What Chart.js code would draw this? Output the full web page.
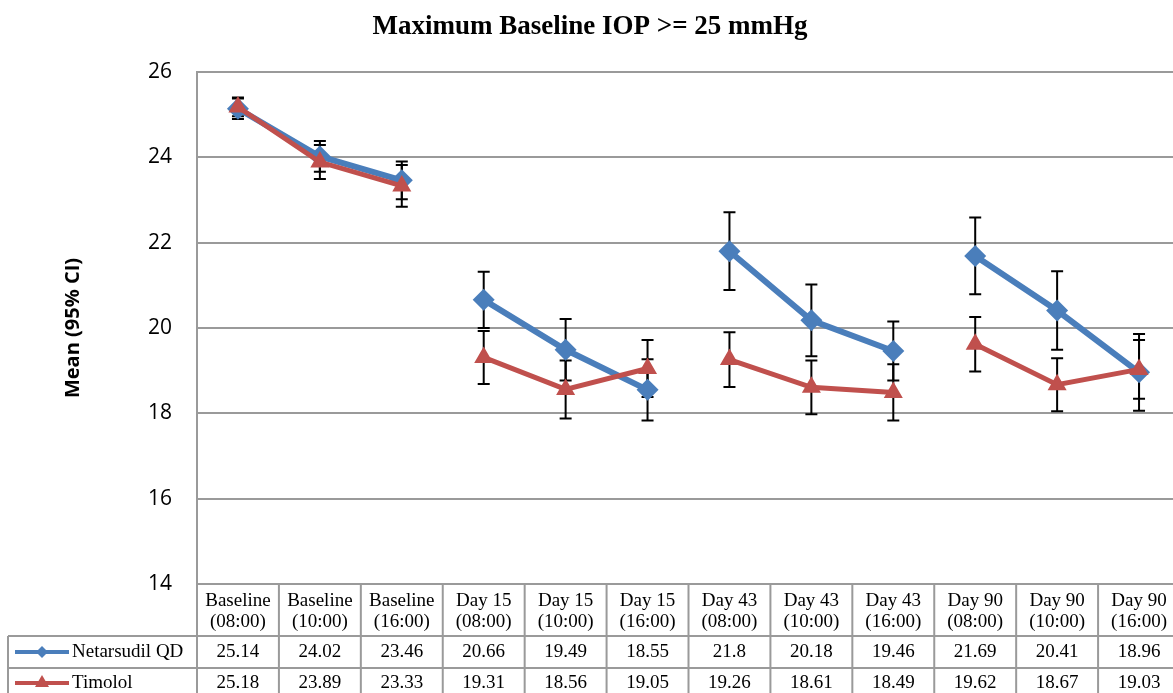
<!DOCTYPE html>
<html>
<head>
<meta charset="utf-8">
<title>Maximum Baseline IOP >= 25 mmHg</title>
<script src="https://cdn.jsdelivr.net/npm/chart.js@4.4.1/dist/chart.umd.min.js"></script>
<style>
  html, body { margin: 0; padding: 0; background: #fff; overflow: hidden; }
  #wrap { width: 1191px; height: 693px; }
</style>
</head>
<body>
<div id="wrap"><canvas id="iopChart" width="1191" height="693"></canvas></div>
<script>
// visit labels (two lines each, shown in the table header)
var categories = [
    ['Baseline', '(08:00)'], ['Baseline', '(10:00)'], ['Baseline', '(16:00)'],
    ['Day 15', '(08:00)'], ['Day 15', '(10:00)'], ['Day 15', '(16:00)'],
    ['Day 43', '(08:00)'], ['Day 43', '(10:00)'], ['Day 43', '(16:00)'],
    ['Day 90', '(08:00)'], ['Day 90', '(10:00)'], ['Day 90', '(16:00)']
];
var seriesNames = ['Netarsudil QD', 'Timolol'];
var netarsudil = [25.14, 24.02, 23.46, 20.66, 19.49, 18.55, 21.8, 20.18, 19.46, 21.69, 20.41, 18.96];
var timolol = [25.18, 23.89, 23.33, 19.31, 18.56, 19.05, 19.26, 18.61, 18.49, 19.62, 18.67, 19.03];
// half width of the 95% CI
var netarsudilCI = [0.24, 0.36, 0.44, 0.66, 0.72, 0.72, 0.91, 0.84, 0.69, 0.90, 0.92, 0.90];
var timololCI = [0.22, 0.40, 0.49, 0.62, 0.68, 0.67, 0.64, 0.63, 0.66, 0.64, 0.62, 0.69];
var yTicks = [14, 16, 18, 20, 22, 24, 26];
// each visit day has three time points; lines are not joined across days
var pointsPerVisit = 3;

var blue = '#4a7ebb';
var red = '#c0504d';
var gridGray = '#9a9a9a';
var serif = '"Liberation Serif", "Times New Roman", serif';
var sans = '"Open Sans", "Noto Sans", sans-serif';

function visitSegment(ctx) {
    return ctx.p1DataIndex % pointsPerVisit === 0 ? 'rgba(0,0,0,0)' : undefined;
}

// error bars for each dataset, drawn under the lines
var errorBars = {
    id: 'errorBars',
    beforeDatasetsDraw: function (chart) {
        var ctx = chart.ctx;
        var y = chart.scales.y;
        ctx.save();
        ctx.strokeStyle = '#000';
        ctx.lineWidth = 2;
        chart.data.datasets.forEach(function (ds, di) {
            var meta = chart.getDatasetMeta(di);
            meta.data.forEach(function (pt, i) {
                var hi = y.getPixelForValue(ds.data[i] + ds.ci[i]);
                var lo = y.getPixelForValue(ds.data[i] - ds.ci[i]);
                ctx.beginPath();
                ctx.moveTo(pt.x, hi); ctx.lineTo(pt.x, lo);
                ctx.moveTo(pt.x - 6, hi); ctx.lineTo(pt.x + 6, hi);
                ctx.moveTo(pt.x - 6, lo); ctx.lineTo(pt.x + 6, lo);
                ctx.stroke();
            });
        });
        ctx.restore();
    }
};

// title, y axis title and the data table under the plot
var extras = {
    id: 'extras',
    afterDraw: function (chart) {
        var ctx = chart.ctx;
        var x = chart.scales.x;
        var area = chart.chartArea;
        var step = x.getPixelForValue(1) - x.getPixelForValue(0);
        var top = area.bottom;
        var row1 = 636, row2 = 668, bottom = 700, left = 8;

        ctx.save();
        ctx.fillStyle = '#000';
        ctx.textAlign = 'center';
        ctx.textBaseline = 'middle';
        ctx.font = 'bold 27px ' + serif;
        ctx.fillText('Maximum Baseline IOP >= 25 mmHg', 590, 27);

        ctx.save();
        ctx.translate(73, 328);
        ctx.rotate(-Math.PI / 2);
        ctx.font = 'bold 20px ' + sans;
        ctx.fillText('Mean (95% CI)', 0, 0);
        ctx.restore();

        // table grid
        ctx.strokeStyle = gridGray;
        ctx.lineWidth = 2;
        ctx.beginPath();
        ctx.moveTo(area.left, top); ctx.lineTo(area.right, top);
        ctx.moveTo(left, row1); ctx.lineTo(area.right, row1);
        ctx.moveTo(left, row2); ctx.lineTo(area.right, row2);
        ctx.moveTo(left, row1); ctx.lineTo(left, bottom);
        for (var k = 0; k <= categories.length; k++) {
            var vx = area.left + k * step;
            ctx.moveTo(vx, top); ctx.lineTo(vx, bottom);
        }
        ctx.stroke();

        ctx.font = '19px ' + serif;
        categories.forEach(function (lab, i) {
            var cx = x.getPixelForValue(i);
            ctx.fillText(lab[0], cx, 601);
            ctx.fillText(lab[1], cx, 622);
        });

        chart.data.datasets.forEach(function (ds, di) {
            var ry = di === 0 ? 652 : 683;
            ctx.textAlign = 'center';
            ds.data.forEach(function (v, i) {
                ctx.fillText(String(v), x.getPixelForValue(i), ry);
            });
            // legend key inside the row label cell
            ctx.strokeStyle = ds.borderColor;
            ctx.lineWidth = 4;
            ctx.beginPath();
            ctx.moveTo(15, ry); ctx.lineTo(69, ry);
            ctx.stroke();
            ctx.fillStyle = ds.borderColor;
            ctx.beginPath();
            if (di === 0) {
                ctx.moveTo(42, ry - 6); ctx.lineTo(48, ry); ctx.lineTo(42, ry + 6); ctx.lineTo(36, ry);
            } else {
                ctx.moveTo(42, ry - 8); ctx.lineTo(49, ry + 4); ctx.lineTo(35, ry + 4);
            }
            ctx.closePath();
            ctx.fill();
            ctx.fillStyle = '#000';
            ctx.textAlign = 'left';
            ctx.fillText(ds.label, 72, ry);
        });
        ctx.restore();
    }
};

var ctx = document.getElementById('iopChart').getContext('2d');
var iopChart = new Chart(ctx, {
    type: 'line',
    data: {
        labels: categories.map(function (c) { return c.join(' '); }),
        datasets: [{
            label: seriesNames[0],
            data: netarsudil,
            ci: netarsudilCI,
            borderColor: blue,
            backgroundColor: blue,
            borderWidth: 6,
            pointStyle: 'rectRot',
            pointRadius: 11,
            pointBorderWidth: 0,
            segment: { borderColor: visitSegment },
            order: 1
        }, {
            label: seriesNames[1],
            data: timolol,
            ci: timololCI,
            borderColor: red,
            backgroundColor: red,
            borderWidth: 5,
            pointStyle: 'triangle',
            pointRadius: 9,
            pointBorderWidth: 2,
            pointBorderColor: red,
            segment: { borderColor: visitSegment },
            order: 0
        }]
    },
    options: {
        responsive: false,
        animation: false,
        layout: { padding: { top: 72, left: 0, right: 0, bottom: 0 } },
        plugins: { legend: { display: false }, title: { display: false }, tooltip: { enabled: false } },
        scales: {
            x: {
                offset: true,
                grid: { display: false, drawTicks: false },
                border: { display: false },
                ticks: { display: false },
                afterFit: function (scale) { scale.height = 109; }
            },
            y: {
                min: 14,
                max: 26,
                afterFit: function (scale) { scale.width = 197; },
                afterBuildTicks: function (scale) {
                    scale.ticks = yTicks.map(function (v) { return { value: v }; });
                },
                grid: { color: gridGray, lineWidth: 2, drawTicks: false },
                border: { color: gridGray, width: 2 },
                ticks: { padding: 25, color: '#000', font: { family: sans, size: 21 } }
            }
        }
    },
    plugins: [errorBars, extras]
});
</script>
</body>
</html>
